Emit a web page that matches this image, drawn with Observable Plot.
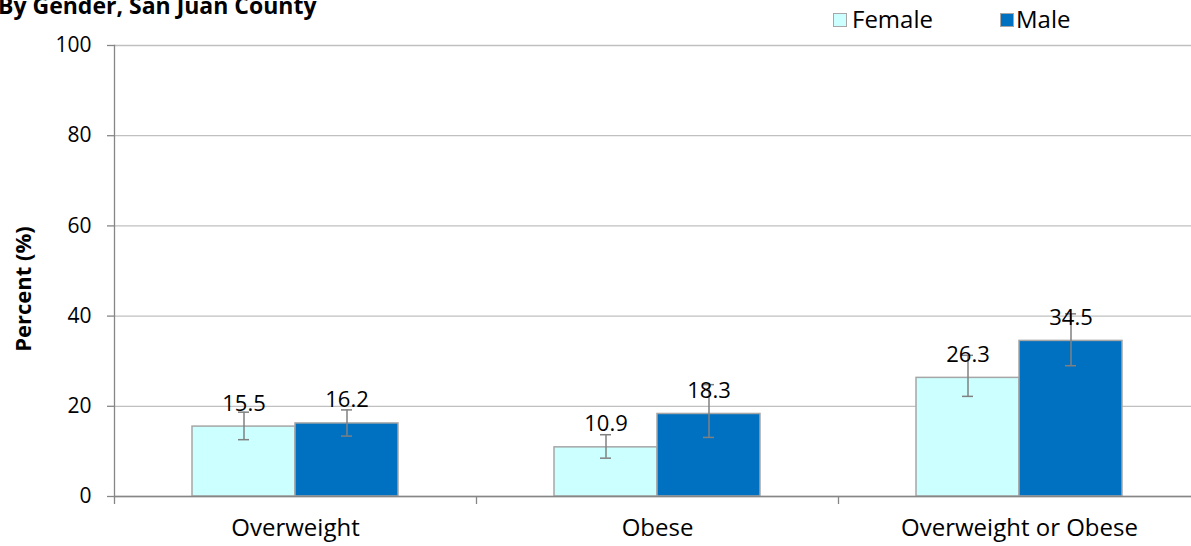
<!DOCTYPE html>
<html>
<head>
<meta charset="utf-8">
<script src="https://cdn.jsdelivr.net/npm/d3@7"></script>
<script src="https://cdn.jsdelivr.net/npm/@observablehq/plot@0.6"></script>
<style>
  html, body { margin: 0; padding: 0; background: #fff; overflow: hidden; width: 1191px; height: 546px; }
  #wrap { position: relative; width: 1191px; height: 546px; font-family: "Open Sans", sans-serif; color: #000; overflow: hidden; }
  #chart { position: absolute; left: 0; top: 0; }
  #title { position: absolute; left: -2px; top: -6px; font-size: 23px; line-height: 23px; font-weight: bold; white-space: nowrap; }
  #ylabel { position: absolute; left: 22px; top: 289px; transform: translate(-50%, -50%) rotate(-90deg); font-size: 22px; font-weight: bold; white-space: nowrap; }
  .leg { position: absolute; top: 4px; font-size: 24px; line-height: 30px; white-space: nowrap; }
  .sw { position: absolute; width: 12px; height: 12px; border: 1px solid #a6a6a6; top: 13px; }
</style>
</head>
<body>
<div id="wrap">
  <div id="chart"></div>
  <div id="title"></div>
  <div id="ylabel"></div>
  <div id="legend"></div>
</div>
<script>
const titleText = "By Gender, San Juan County";
const yLabel = "Percent (%)";
const categories = ["Overweight", "Obese", "Overweight or Obese"];
const genders = ["Female", "Male"];
const genderColors = ["#ccffff", "#0070c0"];
const femaleValues = [15.5, 10.9, 26.3];
const maleValues = [16.2, 18.3, 34.5];
const femaleLow = [12.6, 8.5, 22.2];
const femaleHigh = [18.7, 13.7, 31.3];
const maleLow = [13.4, 13.1, 29.0];
const maleHigh = [19.2, 24.8, 40.5];
const yTicks = [0, 20, 40, 60, 80, 100];

const rows = [];
categories.forEach((c, i) => {
  rows.push({category: c, gender: "Female", value: femaleValues[i], low: femaleLow[i], high: femaleHigh[i]});
  rows.push({category: c, gender: "Male", value: maleValues[i], low: maleLow[i], high: maleHigh[i]});
});

const fxRange = [114, 1200];
const halfBand = (fxRange[1] - fxRange[0]) / categories.length / 2;
const axisGray = "#868686";

const chart = Plot.plot({
  width: 1191,
  height: 546,
  marginTop: 45,
  marginBottom: 50,
  marginLeft: 114,
  marginRight: 0,
  style: {fontFamily: "'Open Sans', sans-serif", fontSize: "20px", color: "#000", background: "transparent", overflow: "visible"},
  fx: {domain: categories, range: fxRange, padding: 0, axis: null},
  x: {domain: genders, paddingInner: 0, paddingOuter: 0.752, axis: null},
  y: {domain: [0, 100], axis: null},
  color: {domain: genders, range: genderColors},
  marks: [
    Plot.gridY(yTicks, {stroke: "#c0c0c0", strokeOpacity: 1, strokeWidth: 1.3}),
    Plot.barY(rows, {fx: "category", x: "gender", y: "value", fill: "gender", stroke: "#a6a6a6", strokeWidth: 1.5}),
    Plot.ruleX(rows, {fx: "category", x: "gender", y1: "low", y2: "high", stroke: "#808080", strokeWidth: 1.5}),
    Plot.tickY(rows, {fx: "category", x: "gender", y: "low", insetLeft: 46, insetRight: 46, stroke: "#808080", strokeWidth: 1.5}),
    Plot.tickY(rows, {fx: "category", x: "gender", y: "high", insetLeft: 46, insetRight: 46, stroke: "#808080", strokeWidth: 1.5}),
    Plot.text(rows, {fx: "category", x: "gender", y: "value", text: d => d.value.toFixed(1), dy: -23, fontSize: 22, fill: "#000"}),
    Plot.ruleY([0], {stroke: axisGray, strokeWidth: 1.3}),
    Plot.frame({anchor: "left", facetAnchor: "left", stroke: axisGray, strokeWidth: 1.3}),
    Plot.axisY({ticks: yTicks, tickSize: 7, tickPadding: 16, stroke: axisGray, strokeWidth: 1.3, fill: "#000", fontSize: 21, label: null, facetAnchor: "left"}),
    Plot.axisFx({anchor: "bottom", tickSize: 0, tickPadding: 22, fontSize: 24, fill: "#000", label: null}),
    Plot.axisFx({anchor: "bottom", tickSize: 8, tickFormat: () => "", dx: -halfBand, stroke: axisGray, strokeWidth: 1.3, label: null})
  ]
});
document.getElementById("chart").appendChild(chart);

document.getElementById("title").textContent = titleText;
document.getElementById("ylabel").textContent = yLabel;

const legendPos = [{sw: 833, tx: 852}, {sw: 1000, tx: 1016}];
const legend = document.getElementById("legend");
genders.forEach((g, i) => {
  const sw = document.createElement("div");
  sw.className = "sw";
  sw.style.left = legendPos[i].sw + "px";
  sw.style.background = genderColors[i];
  legend.appendChild(sw);
  const t = document.createElement("div");
  t.className = "leg";
  t.style.left = legendPos[i].tx + "px";
  t.textContent = g;
  legend.appendChild(t);
});
</script>
</body>
</html>
